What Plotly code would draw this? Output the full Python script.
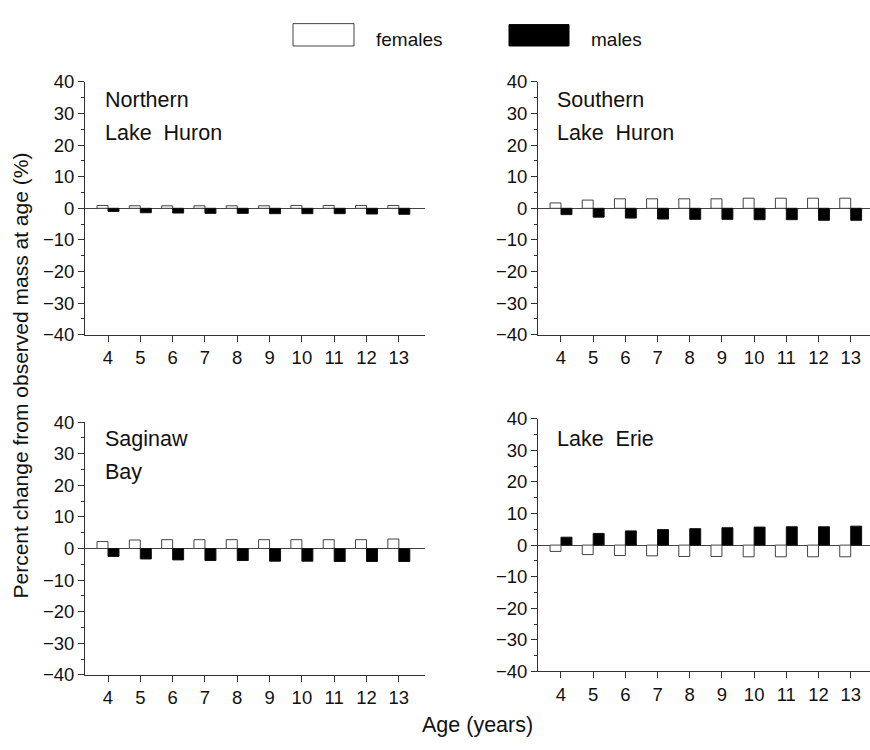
import plotly.graph_objects as go

ages = [4, 5, 6, 7, 8, 9, 10, 11, 12, 13]

north_f = [0.9, 0.8, 0.8, 0.8, 0.8, 0.8, 0.9, 0.9, 0.9, 0.9]
north_m = [-1.0, -1.4, -1.5, -1.6, -1.6, -1.7, -1.7, -1.7, -1.8, -1.9]

south_f = [1.7, 2.6, 3.0, 3.0, 3.0, 3.0, 3.2, 3.2, 3.2, 3.2]
south_m = [-2.0, -2.8, -3.1, -3.4, -3.5, -3.5, -3.6, -3.6, -3.8, -3.8]

sag_f = [2.2, 2.7, 2.8, 2.8, 2.8, 2.8, 2.8, 2.8, 2.8, 3.0]
sag_m = [-2.5, -3.3, -3.6, -3.8, -3.8, -4.0, -4.0, -4.1, -4.1, -4.1]

erie_f = [-2.0, -3.0, -3.3, -3.4, -3.6, -3.6, -3.7, -3.7, -3.7, -3.7]
erie_m = [2.5, 3.7, 4.5, 4.9, 5.2, 5.5, 5.7, 5.8, 5.8, 6.0]

panels = [
    ("Northern", "Lake  Huron", north_f, north_m),
    ("Southern", "Lake  Huron", south_f, south_m),
    ("Saginaw", "Bay", sag_f, sag_m),
    ("Lake  Erie", "", erie_f, erie_m),
]

FONT = "Liberation Sans, Arial, sans-serif"
AX = "#333333"
TICK_SIZE = 18.5

xdom = [[0.0977, 0.4885], [0.6184, 1.0], [0.0977, 0.4885], [0.6184, 1.0]]
ydom = [[0.556, 0.9027], [0.556, 0.9027], [0.0893, 0.436], [0.094, 0.4407]]
xrng = [[3.288, 13.81], [3.286, 13.6], [3.288, 13.81], [3.286, 13.6]]

fig = go.Figure()
layout = dict(
    width=870, height=750,
    margin=dict(l=0, r=0, t=0, b=0),
    paper_bgcolor="white", plot_bgcolor="white",
    barmode="group", bargap=0.32, bargroupgap=0,
    showlegend=False,
    font=dict(family=FONT, size=TICK_SIZE, color="#111111"),
)

for i, (l1, l2, f, m) in enumerate(panels):
    n = "" if i == 0 else str(i + 1)
    xa, ya = "x" + n, "y" + n
    fig.add_trace(go.Bar(x=ages, y=f, xaxis=xa, yaxis=ya, name="females",
                         marker=dict(color="white", line=dict(color="#444444", width=1))))
    fig.add_trace(go.Bar(x=ages, y=m, xaxis=xa, yaxis=ya, name="males",
                         marker=dict(color="black", line=dict(color="#111111", width=1))))
    layout["xaxis" + n] = dict(
        domain=xdom[i], anchor=ya, range=xrng[i], tickvals=ages,
        ticktext=[str(a) for a in ages], ticks="outside", ticklen=6,
        tickcolor=AX, showline=True, linecolor=AX, linewidth=1,
        showgrid=False, zeroline=False, tickfont=dict(size=TICK_SIZE, family=FONT),
    )
    layout["yaxis" + n] = dict(
        domain=ydom[i], anchor=xa, range=[-40, 40], tickvals=list(range(-40, 41, 10)),
        ticks="outside", ticklen=6, tickcolor=AX, showline=True, linecolor=AX,
        linewidth=1, showgrid=False, zeroline=True, zerolinecolor="#444444",
        zerolinewidth=1, tickfont=dict(size=TICK_SIZE, family=FONT),
        minor=dict(dtick=5, ticks="outside", ticklen=3, tickcolor=AX, showgrid=False),
    )

fig.update_layout(**layout)

ann = []
lab_pos = [(103, 92, 126), (555, 92, 126), (103, 440, 474), (555, 440, 474)]
for (l1, l2, f, m), (px, py1, py2) in zip(panels, lab_pos):
    for txt, py in ((l1, py1), (l2, py2)):
        if txt:
            ann.append(dict(text=txt, x=px / 870, y=1 - py / 750, xref="paper", yref="paper",
                            xanchor="left", yanchor="middle", showarrow=False,
                            font=dict(size=21.5, family=FONT, color="#111111")))

ann.append(dict(text="Percent change from observed mass at age (%)", textangle=-90,
                x=20 / 870, y=1 - 375 / 750, xref="paper", yref="paper",
                xanchor="center", yanchor="middle", showarrow=False,
                font=dict(size=21, family=FONT, color="#111111")))
ann.append(dict(text="Age (years)", x=478 / 870, y=1 - 735 / 750, xref="paper", yref="paper",
                xanchor="center", yanchor="middle", showarrow=False,
                font=dict(size=21.5, family=FONT, color="#111111")))
ann.append(dict(text="females", x=374 / 870, y=1 - 29 / 750, xref="paper", yref="paper",
                xanchor="left", yanchor="middle", showarrow=False,
                font=dict(size=19, family=FONT, color="#111111")))
ann.append(dict(text="males", x=589 / 870, y=1 - 29 / 750, xref="paper", yref="paper",
                xanchor="left", yanchor="middle", showarrow=False,
                font=dict(size=19, family=FONT, color="#111111")))

shapes = [
    dict(type="rect", xref="paper", yref="paper", x0=293 / 870, x1=354 / 870,
         y0=1 - 36 / 750, y1=1 - 13 / 750, fillcolor="white", line=dict(color="#444444", width=1)),
    dict(type="rect", xref="paper", yref="paper", x0=509 / 870, x1=569 / 870,
         y0=1 - 36 / 750, y1=1 - 14 / 750, fillcolor="black", line=dict(color="black", width=1)),
]
fig.update_layout(annotations=ann, shapes=shapes)

fig.write_html("out.html")
